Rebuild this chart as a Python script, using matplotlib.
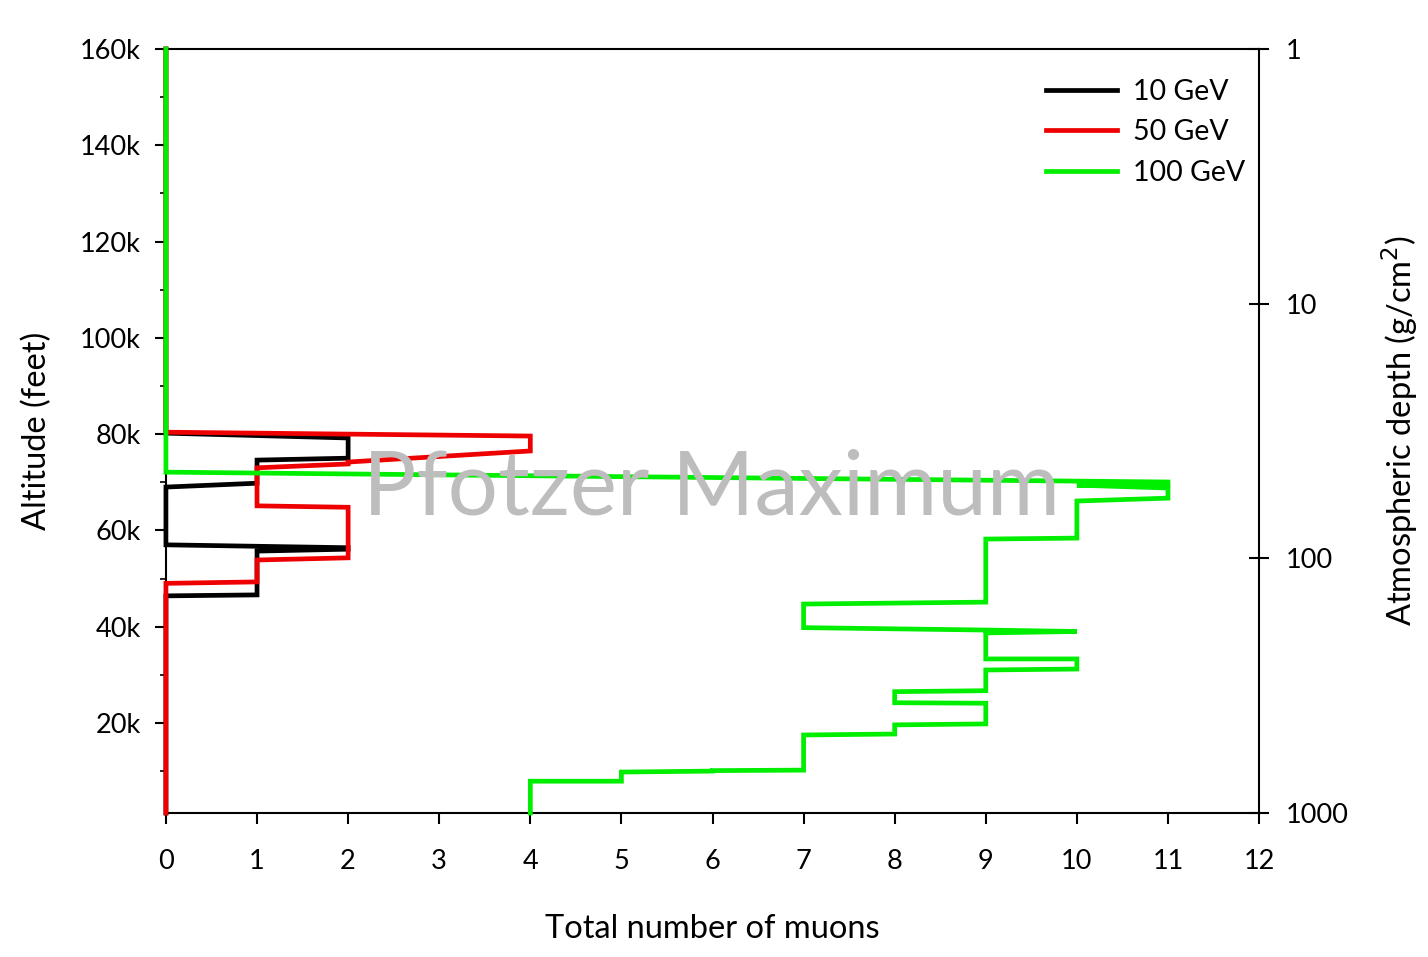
import matplotlib.pyplot as plt
from matplotlib.ticker import FixedLocator, FuncFormatter, NullLocator

plt.rcParams['font.family'] = ['Lato', 'DejaVu Sans']

# outline of muon counts vs altitude (thousand feet)
muons_10 = [0, 0, 2, 2, 1, 1, 0, 0, 2, 2, 1, 1, 0, 0]
alt_10 = [160, 80.2, 79.2, 75.0, 74.6, 69.8, 69.0, 57.0, 56.4, 56.1, 55.7, 46.6, 46.4, 1.3]

muons_50 = [0, 0, 4, 4, 2, 2, 1, 1, 2, 2, 1, 1, 0, 0]
alt_50 = [160, 80.4, 79.6, 76.5, 74.2, 73.8, 73.0, 65.1, 64.8, 54.3, 53.85, 49.3, 49.0, 1.3]

muons_100 = [0, 0, 11, 11, 10, 11, 11, 10, 10, 9, 9, 7, 7, 9, 10, 9, 9, 10, 10,
             9, 9, 8, 8, 9, 9, 8, 8, 7, 7, 6, 6, 5, 5, 4, 4]
alt_100 = [160, 72.1, 70.05, 69.6, 69.4, 68.8, 66.7, 66.1, 58.4, 58.2, 45.1, 44.7,
           39.8, 39.3, 39.0, 38.7, 33.3, 33.3, 31.2, 31.0, 26.7, 26.5, 24.2, 24.1,
           19.8, 19.6, 17.7, 17.5, 10.2, 10.1, 10.0, 9.8, 7.9, 7.9, 1.3]

series = [('10 GeV', muons_10, alt_10, 'black'),
          ('50 GeV', muons_50, alt_50, '#ee0000'),
          ('100 GeV', muons_100, alt_100, '#00ee00')]

depth_ticks = [1, 10, 100, 1000]

fig = plt.figure(figsize=(14.28, 9.57), dpi=100)
ax = fig.add_axes([0.1162, 0.1505, 0.7655, 0.7983])

for name, x, alt, col in series:
    ax.plot(x, [a * 1000 for a in alt], color=col, lw=3.4, label=name,
            solid_joinstyle='miter', clip_on=False, zorder=5)

ax.set_xlim(0, 12)
ax.set_ylim(1300, 160000)
ax.set_xticks(range(0, 13))
ax.yaxis.set_major_locator(FixedLocator([20000 * i for i in range(1, 9)]))
ax.yaxis.set_minor_locator(FixedLocator([10000 + 20000 * i for i in range(8)]))
ax.yaxis.set_major_formatter(FuncFormatter(lambda v, p: '%dk' % (v / 1000)))

for s in ax.spines.values():
    s.set_linewidth(1.5)
    s.set_zorder(1)
ax.tick_params(axis='x', which='major', length=8, width=1.5, pad=18, labelsize=19.5)
ax.tick_params(axis='y', which='major', length=8, width=1.5, pad=10, labelsize=19.5)
ax.tick_params(axis='y', which='minor', length=4, width=1.2)

ax.set_xlabel('Total number of muons', fontsize=23.5, labelpad=29)
ax.set_ylabel('Altitude (feet)', fontsize=23.5, labelpad=20)

ax2 = ax.twinx()
ax2.set_yscale('log')
ax2.set_ylim(1000, 1)
ax2.yaxis.set_major_locator(FixedLocator(depth_ticks))
ax2.yaxis.set_minor_locator(NullLocator())
ax2.yaxis.set_major_formatter(FuncFormatter(lambda v, p: '%d' % v))
ax2.tick_params(axis='y', direction='inout', length=14, width=1.5, pad=12, labelsize=19.5)
ax2.set_ylabel('Atmospheric depth (g/cm$^2$)', fontsize=23.5, labelpad=22)
for s in ax2.spines.values():
    s.set_visible(False)
ax.set_zorder(2)
ax.patch.set_visible(False)

leg = ax.legend(loc='upper right', bbox_to_anchor=(1.011, 0.994), frameon=False,
                fontsize=20.5, handlelength=2.5, handletextpad=0.58, labelspacing=0.5)

ax.text(0.4995, 0.423, 'Pfotzer Maximum', transform=ax.transAxes, fontsize=64,
        color='#bdbdbd', ha='center', va='center', zorder=10)

fig.savefig('out.png', dpi=100)
